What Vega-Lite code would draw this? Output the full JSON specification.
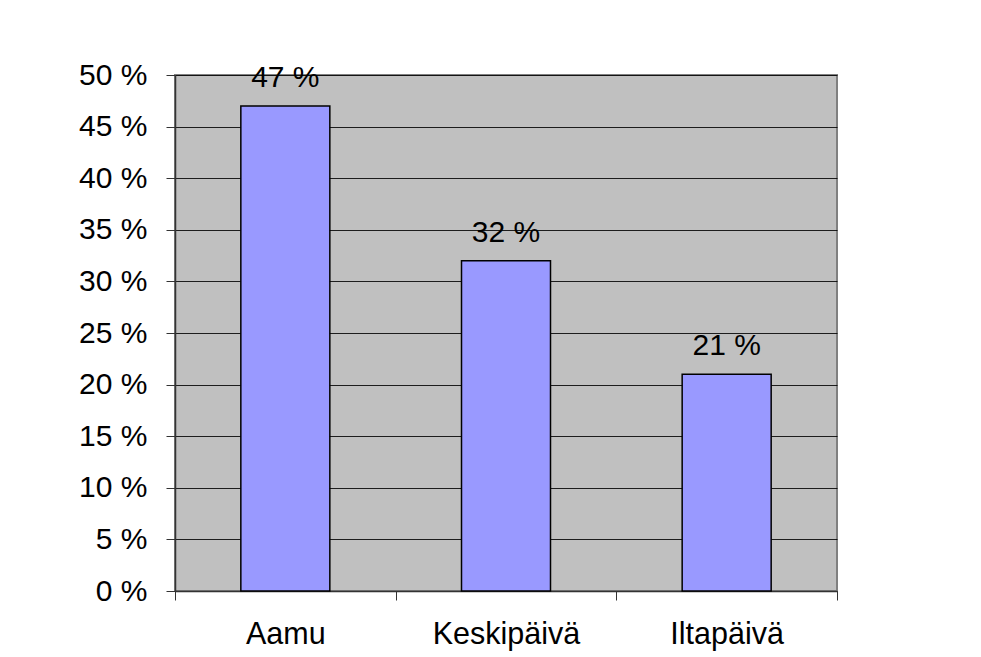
{
  "$schema": "https://vega.github.io/schema/vega-lite/v6.json",
  "autosize": {"type": "none"},
  "padding": {"left": 175, "top": 75, "right": 144, "bottom": 66},
  "width": 662,
  "height": 516,
  "background": "white",
  "data": {"values": [
    {"aika": "Aamu", "osuus": 47},
    {"aika": "Keskipäivä", "osuus": 32},
    {"aika": "Iltapäivä", "osuus": 21}
  ]},
  "config": {
    "font": "Liberation Sans",
    "view": {"fill": "#C0C0C0", "stroke": "#808080", "strokeWidth": 2}
  },
  "encoding": {
    "x": {
      "field": "aika", "type": "nominal", "sort": null, "title": null,
      "scale": {"paddingInner": 0, "paddingOuter": 0},
      "axis": {
        "labelAngle": 0, "labelFontSize": 30.5, "labelColor": "black",
        "labelPadding": 19, "tickSize": 9, "tickColor": "#333333", "tickWidth": 1,
        "tickBand": "extent", "domainColor": "#333333", "domainWidth": 1.5,
        "grid": false
      }
    },
    "y": {
      "field": "osuus", "type": "quantitative", "title": null,
      "scale": {"domain": [0, 50], "nice": false},
      "axis": {
        "values": [0, 5, 10, 15, 20, 25, 30, 35, 40, 45, 50],
        "labelExpr": "datum.value + ' %'",
        "labelFontSize": 30, "labelColor": "black", "labelPadding": 19,
        "tickSize": 9, "tickColor": "#333333", "tickWidth": 1,
        "domainColor": "#333333", "domainWidth": 1.5,
        "grid": true, "gridColor": "black", "gridWidth": 1, "gridOpacity": 0.85
      }
    }
  },
  "layer": [
    {
      "mark": {"type": "bar", "size": 89, "fill": "#9999FF", "stroke": "black", "strokeWidth": 1.5}
    },
    {
      "mark": {"type": "text", "baseline": "alphabetic", "dy": -19, "fontSize": 30, "color": "black",
               "text": {"expr": "datum.osuus + ' %'"}}
    }
  ]
}
